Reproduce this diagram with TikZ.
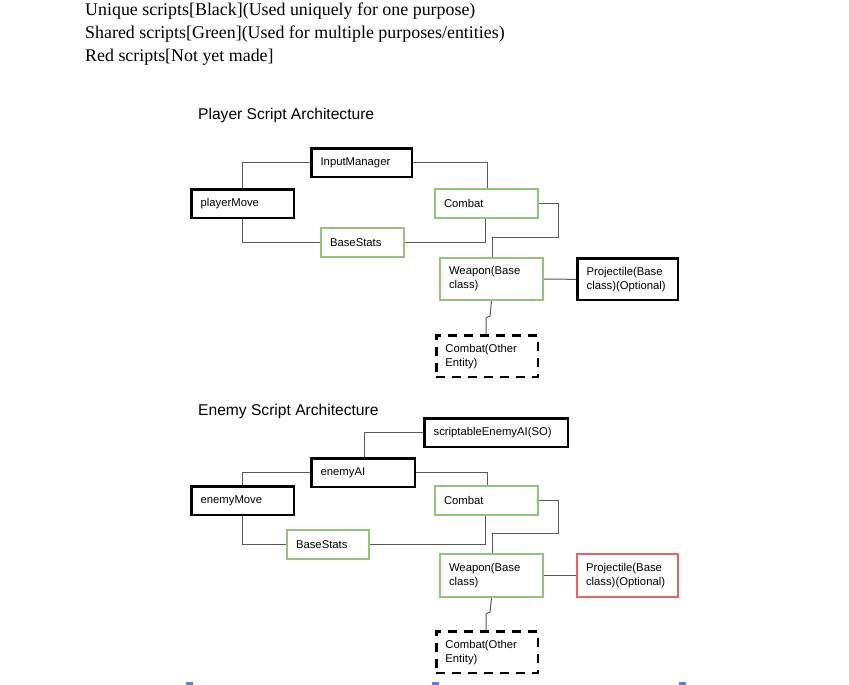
\documentclass[tikz,border=0pt]{standalone}
\usepackage{fontspec}
\setmainfont{Liberation Serif}
\newfontfamily\arial{Liberation Sans}
\definecolor{gbox}{HTML}{93C47D}
\definecolor{rbox}{HTML}{E06666}
\definecolor{wire}{HTML}{595959}
\definecolor{handle}{HTML}{4A86E8}
\begin{document}
\begin{tikzpicture}[x=1pt,y=-1pt,
  bx/.style={rectangle,anchor=north west,inner xsep=9pt,inner ysep=0pt,align=left,
    font=\arial\fontsize{11.3}{14}\selectfont},
  blk/.style={bx,draw=black,line width=2.6pt},
  grn/.style={bx,draw=gbox,line width=2pt},
  red/.style={bx,draw=rbox,line width=2pt},
  dsh/.style={bx,draw=black,line width=2.4pt,dash pattern=on 9pt off 7pt},
  wr/.style={draw=wire,line width=1pt},
  ttl/.style={anchor=base west,inner sep=0pt,font=\arial\fontsize{15.6}{18}\selectfont},
  hdr/.style={anchor=base west,inner sep=0pt,font=\fontsize{17.9}{20}\selectfont}]
\path[use as bounding box] (0,0) rectangle (849,685);
\fill[white] (0,0) rectangle (849,685);

% header
\node[hdr] (h1) at (85,16) {Unique scripts[Black](Used uniquely for one purpose)};
\node[hdr] (h2) at (85,39) {Shared scripts[Green](Used for multiple purposes/entities)};
\node[hdr] (h3) at (85,62) {Red scripts[Not yet made]};

% ---------- Player ----------
\node[ttl] (pt) at (198,119) {Player Script Architecture};
\node[blk,text width=82.5pt,minimum height=28.5pt] (im) at (310.3,147.3) {InputManager};
\node[blk,text width=84.5pt,minimum height=28.5pt] (pm) at (190.3,188.3) {playerMove};
\node[grn,text width=85pt,minimum height=29pt] (pc) at (434,188) {Combat};
\node[grn,text width=65pt,minimum height=29pt] (pb) at (320,227) {BaseStats};
\node[grn,text width=85pt,minimum height=42pt] (pw) at (439,257) {Weapon(Base\\class)};
\node[blk,text width=82.5pt,minimum height=41.5pt] (pp) at (576.3,257.3) {Projectile(Base\\class)(Optional)};
\node[dsh,text width=83.6pt,minimum height=41.6pt] (po) at (435.2,334.2) {Combat(Other\\Entity)};

\draw[wr] (im.west) -| (pm.north);
\draw[wr] (im.east) -| ([xshift=1pt]pc.north);
\draw[wr] (pm.south) |- (pb.west);
\draw[wr] (pb.east) -| ([xshift=-1pt]pc.south);
\coordinate (pk1) at (558,237);
\draw[wr] (pc.east) -| (pk1) -| ([xshift=1pt]pw.north);
\draw[wr] (pw.east) -- (pp.west);
\coordinate (pj1) at (490,316);
\coordinate (pj2) at (486,318);
\draw[wr] (pw.south) -- (pj1) -- (pj2) -- (pj2 |- po.north);

% ---------- Enemy ----------
\node[ttl] (et) at (198,415) {Enemy Script Architecture};
\node[blk,text width=125.5pt,minimum height=28.5pt] (so) at (423.3,417.3) {scriptableEnemyAI(SO)};
\node[blk,text width=85.5pt,minimum height=28.5pt] (ea) at (310.3,457.3) {enemyAI};
\node[blk,text width=84.5pt,minimum height=28.5pt] (em) at (190.3,485.3) {enemyMove};
\node[grn,text width=85pt,minimum height=29pt] (ec) at (434,485) {Combat};
\node[grn,text width=64pt,minimum height=29pt] (eb) at (286,529) {BaseStats};
\node[grn,text width=85pt,minimum height=43pt] (ew) at (439,553) {Weapon(Base\\class)};
\node[red,text width=83pt,minimum height=43pt] (ep) at (576,553) {Projectile(Base\\class)(Optional)};
\node[dsh,text width=83.6pt,minimum height=41.6pt] (eo) at (435.2,630.2) {Combat(Other\\Entity)};

\draw[wr] (so.west) -| ([xshift=1pt]ea.north);
\draw[wr] (ea.west) -| (em.north);
\draw[wr] (ea.east) -| ([xshift=1pt]ec.north);
\draw[wr] (em.south) |- (eb.west);
\draw[wr] (eb.east) -| ([xshift=-1pt]ec.south);
\coordinate (ek1) at (558,533);
\draw[wr] (ec.east) -| (ek1) -| ([xshift=1pt]ew.north);
\draw[wr] (ew.east) -- (ep.west);
\coordinate (ej1) at (490,612);
\coordinate (ej2) at (486,614);
\draw[wr] (ew.south) -- (ej1) -- (ej2) -- (ej2 |- eo.north);

% selection handles at bottom
\fill[handle] (186,682) rectangle (193,685);
\fill[handle] (432,682) rectangle (439,685);
\fill[handle] (679,682) rectangle (686,685);
\end{tikzpicture}
\end{document}
